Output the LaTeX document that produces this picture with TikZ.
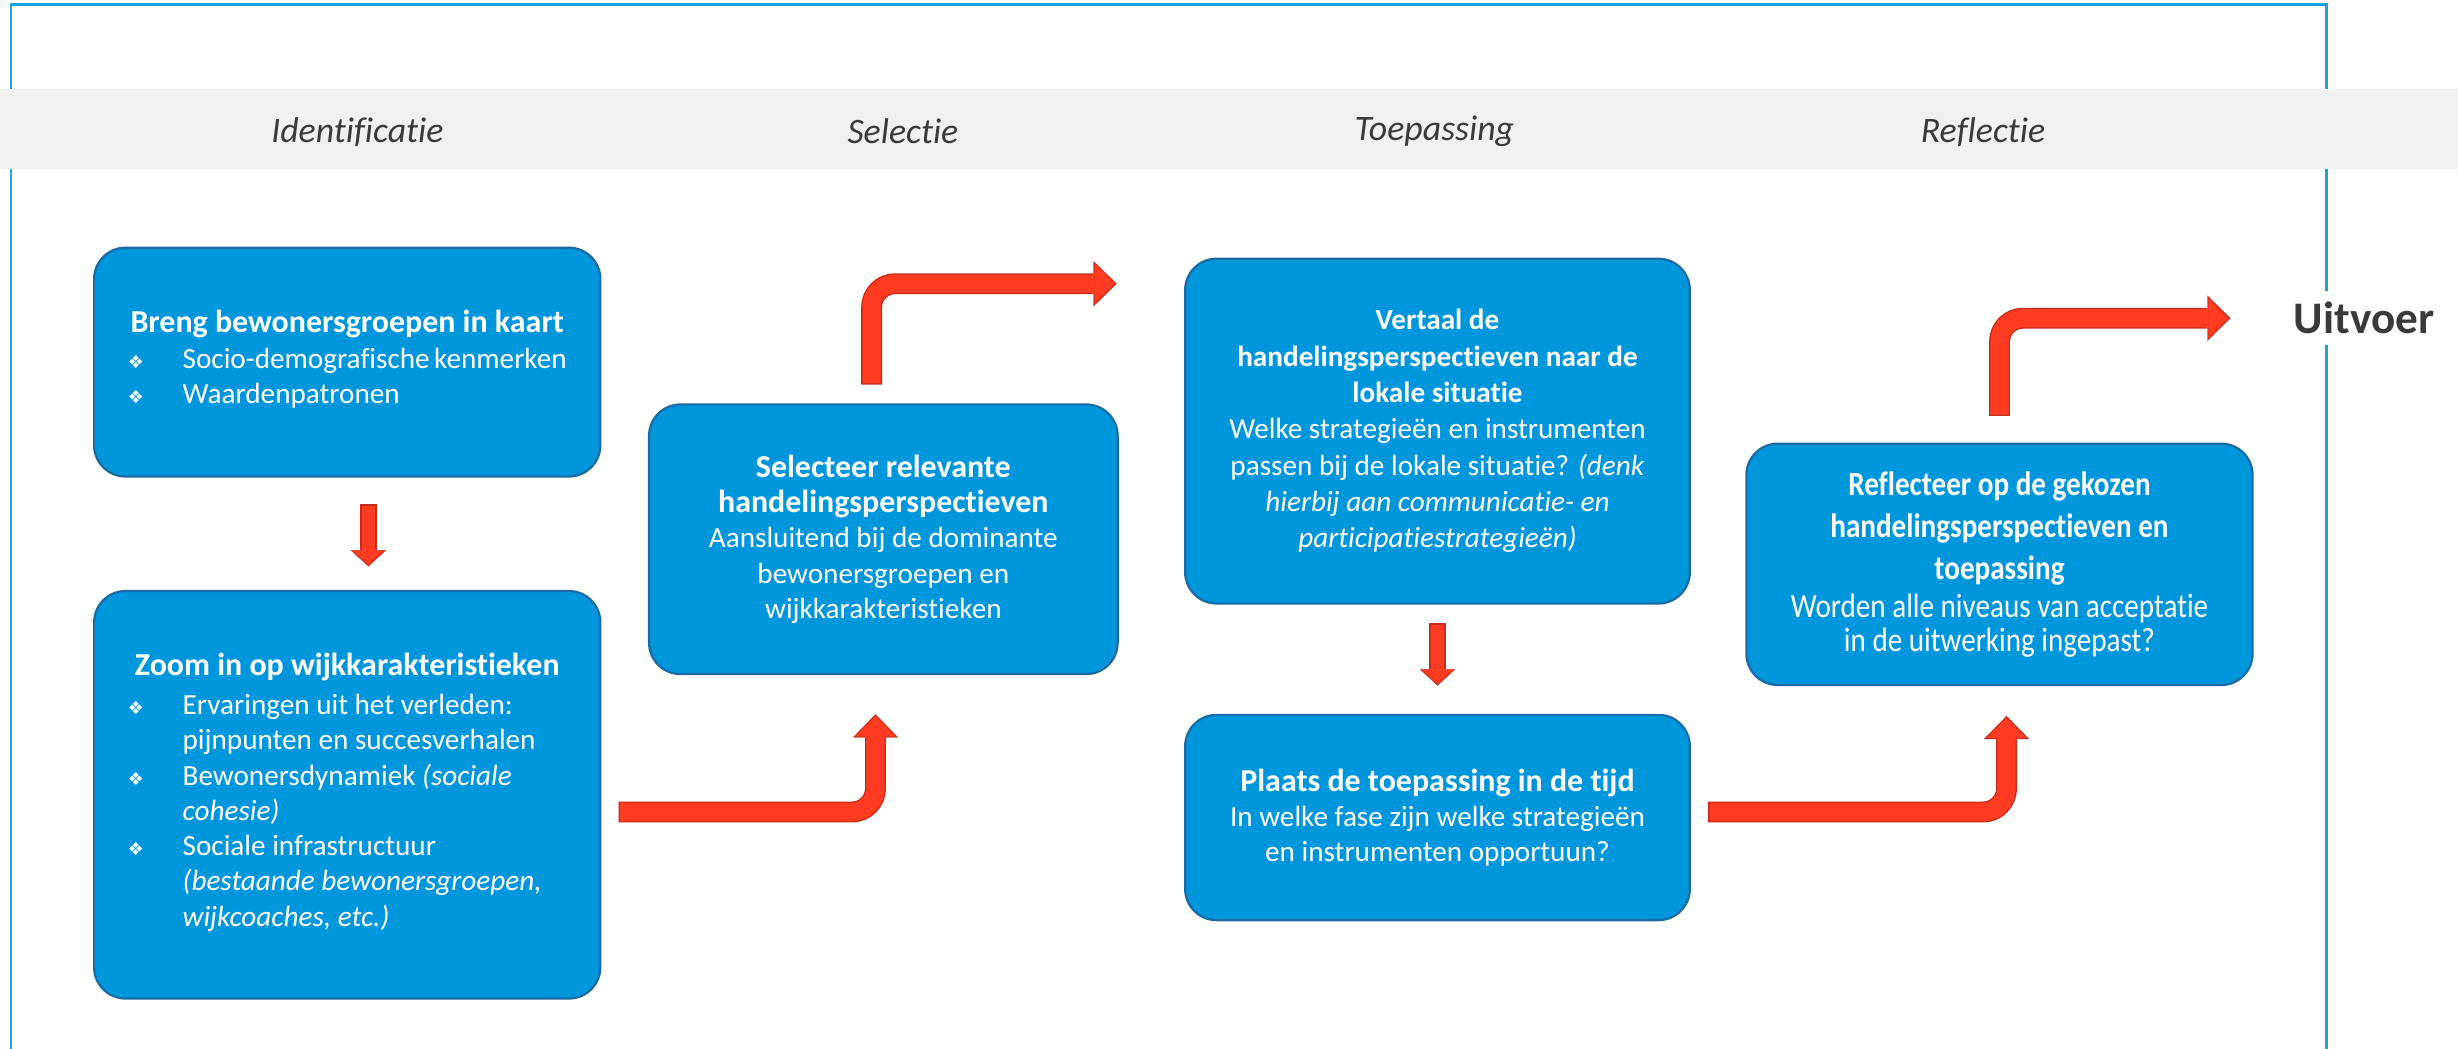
\documentclass[tikz,border=0pt]{standalone}
\usepackage{fontspec}
\setmainfont{Carlito}[Ligatures=NoCommon]
\newfontfamily\narrowfont{Carlito}[Ligatures=NoCommon,FakeStretch=0.86]
\newfontfamily\dingfont{DejaVu Sans}
\usetikzlibrary{arrows.meta}
\definecolor{blue1}{HTML}{0096DC}
\definecolor{blue2}{HTML}{1B6BA2}
\definecolor{blue7}{HTML}{1AA3E0}
\definecolor{red1}{HTML}{FF3B22}
\definecolor{red2}{HTML}{C22E1A}
\definecolor{gray1}{HTML}{F0F0F0}
\definecolor{gray2}{HTML}{3A3A3A}
\newcommand{\bul}{{\dingfont\fontsize{6.5}{6.5}\selectfont ❖}}
\newcommand{\ttl}[1]{{\fontsize{11.6}{12.8}\selectfont\bfseries #1}}
% block arrow: dark outline first, red body on top
\newcommand{\redarrow}[3]{\draw[#1] #3; \draw[#2] #3;}

\begin{document}
\begin{tikzpicture}[x=0.02cm, y=-0.02cm,
  box/.style={rectangle, rounded corners=0.4cm, fill=blue1, draw=blue2, line width=0.8pt,
    text=white, align=center, inner sep=0pt, font=\fontsize{10.6}{12.8}\selectfont},
  phase/.style={font=\fontsize{13}{15}\selectfont\itshape, text=gray2},
  flowout/.style={draw=red2, line width=7.6pt, rounded corners=0.3cm,
    -{Triangle[width=16.4pt,length=8.4pt,line width=0.1pt]}},
  flowin/.style={draw=red1, line width=6.6pt, rounded corners=0.3cm, shorten <=0.5pt, shorten >=0.7pt,
    -{Triangle[width=14.6pt,length=7.3pt,line width=0.1pt]}},
  downout/.style={draw=red2, line width=5.9pt, -{Triangle[width=12.8pt,length=5.9pt,line width=0.1pt]}},
  downin/.style={draw=red1, line width=4.9pt, shorten <=0.5pt, shorten >=0.7pt,
    -{Triangle[width=11.2pt,length=5pt,line width=0.1pt]}}]
\useasboundingbox (0,0) rectangle (1568,669);

% frame and phase band
\draw[blue7, line width=0.9pt] (7,669) -- (7,3) -- (1484,3) -- (1484,669);
\fill[gray1] (0,57) rectangle (1568,108);
\node[phase] (ph1) at (228,84) {Identificatie};
\node[phase] (ph2) at (576,84) {Selectie};
\node[phase] (ph3) at (915,84) {Toepassing};
\node[phase] (ph4) at (1265,84) {Reflectie};

% identificatie
\node[box, minimum width=6.46cm, minimum height=2.92cm] (groepen) at (221.5,231) {%
  \ttl{Breng bewonersgroepen in kaart}\\
  \begin{tabular}[t]{@{}p{0.7cm}@{}p{4.9cm}@{}}
  \bul & Socio-demografische kenmerken\\
  \bul & Waardenpatronen
  \end{tabular}};
\node[box, minimum width=6.46cm, minimum height=5.2cm] (wijk) at (221.5,507) {%
  \ttl{Zoom in op wijkkarakteristieken}\\[1.5pt]
  \begin{tabular}[t]{@{}p{0.7cm}@{}p{4.9cm}@{}}
  \bul & Ervaringen uit het verleden:\\
       & pijnpunten en succesverhalen\\
  \bul & Bewonersdynamiek \textit{(sociale}\\
       & \textit{cohesie)}\\
  \bul & Sociale infrastructuur\\
       & \textit{(bestaande bewonersgroepen,}\\
       & \textit{wijkcoaches, etc.)}
  \end{tabular}};

% selectie
\node[box, minimum width=5.98cm, minimum height=3.44cm] (selectie) at (563.5,344) {%
  \ttl{Selecteer relevante}\\
  \ttl{handelingsperspectieven}\\
  Aansluitend bij de dominante\\
  bewonersgroepen en\\
  wijkkarakteristieken};

% toepassing
\node[box, minimum width=6.44cm, minimum height=4.4cm, font=\fontsize{10.6}{13.2}\selectfont] (vertaal) at (917,275) {%
  \textbf{Vertaal de}\\
  \textbf{handelingsperspectieven naar de}\\
  \textbf{lokale situatie}\\
  Welke strategieën en instrumenten\\
  passen bij de lokale situatie? \textit{(denk}\\
  \textit{hierbij aan communicatie- en}\\
  \textit{participatiestrategieën)}};
\node[box, minimum width=6.44cm, minimum height=2.62cm] (tijd) at (917,521.5) {%
  \ttl{Plaats de toepassing in de tijd}\\
  In welke fase zijn welke strategieën\\
  en instrumenten opportuun?};

% reflectie
\node[box, minimum width=6.46cm, minimum height=3.08cm, font=\narrowfont\fontsize{12.3}{15.3}\selectfont] (reflectie) at (1275.5,360) {%
  \textbf{Reflecteer op de gekozen}\\
  \textbf{handelingsperspectieven en}\\
  \textbf{toepassing}\\[-1.6pt]
  Worden alle niveaus van acceptatie\\[-2.8pt]
  in de uitwerking ingepast?};
\node[fill=white, text=gray2, font=\fontsize{16.4}{18}\selectfont\bfseries, inner sep=4pt] (uitvoer) at (1508,203) {Uitvoer};

% arrows
\redarrow{downout}{downin}{([shift={(13.5,17)}]groepen.south) -- ([shift={(13.5,-15)}]wijk.north)}
\redarrow{flowout}{flowin}{([shift={(11,11)}]wijk.east) -| ([shift={(-5,25)}]selectie.south)}
\redarrow{flowout}{flowin}{([shift={(-7.5,-12)}]selectie.north) |- ([shift={(-43,-94)}]vertaal.west)}
\redarrow{downout}{downin}{([shift={(0,12)}]vertaal.south) -- ([shift={(0,-18)}]tijd.north)}
\redarrow{flowout}{flowin}{([shift={(11,-3.5)}]tijd.east) -| ([shift={(4.5,19)}]reflectie.south)}
\redarrow{flowout}{flowin}{([shift={(0,-17)}]reflectie.north) |- ([shift={(-33,0)}]uitvoer.west)}
\end{tikzpicture}
\end{document}
